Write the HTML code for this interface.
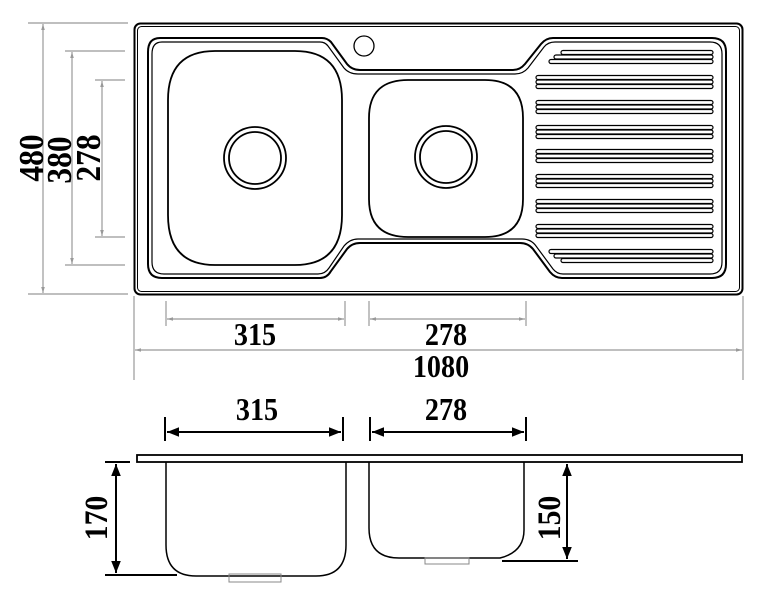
<!DOCTYPE html>
<html><head><meta charset="utf-8"><style>
html,body{margin:0;padding:0;background:#fff;}
svg{display:block;}
text{font-family:"Liberation Serif",serif;font-weight:bold;fill:#000;}
</style></head><body>
<svg width="768" height="599" viewBox="0 0 768 599" xmlns="http://www.w3.org/2000/svg">
<defs>
<marker id="ga" viewBox="0 0 10 10" refX="10" refY="5" markerWidth="8" markerHeight="5" orient="auto-start-reverse"><path d="M0,2 L10,5 L0,8z" fill="#999"/></marker>
<marker id="ba" viewBox="0 0 10 10" refX="10" refY="5" markerWidth="6" markerHeight="6" orient="auto-start-reverse"><path d="M0,1 L10,5 L0,9z" fill="#000"/></marker>
</defs>
<g stroke="#999" stroke-width="1.2" fill="none">
<line x1="28" y1="23" x2="128" y2="23"/><line x1="28" y1="294" x2="128" y2="294"/>
<line x1="43" y1="24" x2="43" y2="293" marker-start="url(#ga)" marker-end="url(#ga)"/>
<line x1="65" y1="51" x2="125" y2="51"/><line x1="65" y1="265" x2="125" y2="265"/>
<line x1="72" y1="52" x2="72" y2="264" marker-start="url(#ga)" marker-end="url(#ga)"/>
<line x1="95" y1="80" x2="125" y2="80"/><line x1="95" y1="237" x2="125" y2="237"/>
<line x1="102" y1="81" x2="102" y2="236" marker-start="url(#ga)" marker-end="url(#ga)"/>
<line x1="166" y1="301" x2="166" y2="326"/><line x1="345" y1="301" x2="345" y2="326"/>
<line x1="167" y1="319" x2="344" y2="319" marker-start="url(#ga)" marker-end="url(#ga)"/>
<line x1="369" y1="301" x2="369" y2="326"/><line x1="526" y1="301" x2="526" y2="326"/>
<line x1="370" y1="319" x2="525" y2="319" marker-start="url(#ga)" marker-end="url(#ga)"/>
<line x1="134" y1="296" x2="134" y2="380"/><line x1="743" y1="296" x2="743" y2="380"/>
<line x1="135" y1="350" x2="742" y2="350" marker-start="url(#ga)" marker-end="url(#ga)"/>
</g>
<text transform="translate(43,158) rotate(-90) scale(0.9,1)" font-size="35" text-anchor="middle">480</text>
<text transform="translate(71,160) rotate(-90) scale(0.9,1)" font-size="35" text-anchor="middle">380</text>
<text transform="translate(100,158) rotate(-90) scale(0.9,1)" font-size="35" text-anchor="middle">278</text>
<rect x="226" y="320" width="60" height="27" fill="#fff"/>
<rect x="410" y="320" width="66" height="27" fill="#fff"/>
<rect x="404" y="352" width="74" height="26" fill="#fff"/>
<text transform="translate(255,345) scale(0.88,1)" font-size="32" text-anchor="middle">315</text>
<text transform="translate(446,345) scale(0.88,1)" font-size="32" text-anchor="middle">278</text>
<text transform="translate(441,377) scale(0.88,1)" font-size="32" text-anchor="middle">1080</text>
<g fill="none" stroke="#000">
<rect x="134.5" y="23.5" width="608" height="271" rx="6" stroke-width="2"/>
<rect x="137.5" y="26.5" width="602" height="265" rx="4" stroke-width="1"/>
<path d="M160,38 H322 Q327,38 331,42 L347,64 Q352,70 360,70 H513 Q520,70 525,64 L541,44 Q546,38 553,38 H712 Q726,38 726,52 V264 Q726,278 712,278 H562 Q555,278 550,272 L533,249 Q528,243 520,243 H360 Q352,243 347,249 L331,271 Q327,278 320,278 H162 Q148,278 148,264 V52 Q148,38 160,38 Z" stroke-width="2"/>
<path d="M162,42 H320 Q325,42 328,46 L344,68 Q349,74 358,74 H515 Q523,74 528,68 L544,47 Q548,42 555,42 H710 Q722,42 722,54 V262 Q722,274 710,274 H563 Q557,274 553,269 L536,246 Q531,239 522,239 H358 Q350,239 344,246 L329,268 Q325,274 318,274 H164 Q152,274 152,262 V54 Q152,42 162,42 Z" stroke-width="1.2"/>
<path d="M215,51 H295 Q342,51 342,100 V215 Q342,265 295,265 H215 Q168,265 168,215 V100 Q168,51 215,51 Z" stroke-width="1.8"/>
<path d="M408,80 H485 Q523,80 523,118 V199 Q523,237 485,237 H408 Q369,237 369,199 V118 Q369,80 408,80 Z" stroke-width="1.8"/>
<circle cx="255" cy="158" r="31" stroke-width="1.8"/>
<circle cx="255" cy="158" r="26" stroke-width="1.8"/>
<circle cx="446" cy="157" r="31" stroke-width="1.8"/>
<circle cx="446" cy="157" r="26" stroke-width="1.8"/>
<circle cx="364" cy="46" r="10" stroke-width="1.3"/>
<g stroke-width="1.2">
<rect x="561" y="50.5" width="152" height="4" rx="2"/>
<rect x="554" y="55" width="159" height="4" rx="2"/>
<rect x="549" y="59.5" width="164" height="4" rx="2"/>
<rect x="536" y="75.5" width="177" height="4" rx="2"/><rect x="536" y="80" width="177" height="4" rx="2"/><rect x="536" y="84.5" width="177" height="4" rx="2"/>
<rect x="536" y="100.5" width="177" height="4" rx="2"/><rect x="536" y="105" width="177" height="4" rx="2"/><rect x="536" y="109.5" width="177" height="4" rx="2"/>
<rect x="536" y="125.5" width="177" height="4" rx="2"/><rect x="536" y="130" width="177" height="4" rx="2"/><rect x="536" y="134.5" width="177" height="4" rx="2"/>
<rect x="536" y="149.5" width="177" height="4" rx="2"/><rect x="536" y="154" width="177" height="4" rx="2"/><rect x="536" y="158.5" width="177" height="4" rx="2"/>
<rect x="536" y="174.5" width="177" height="4" rx="2"/><rect x="536" y="179" width="177" height="4" rx="2"/><rect x="536" y="183.5" width="177" height="4" rx="2"/>
<rect x="536" y="199.5" width="177" height="4" rx="2"/><rect x="536" y="204" width="177" height="4" rx="2"/><rect x="536" y="208.5" width="177" height="4" rx="2"/>
<rect x="536" y="224.5" width="177" height="4" rx="2"/><rect x="536" y="229" width="177" height="4" rx="2"/><rect x="536" y="233.5" width="177" height="4" rx="2"/>
<rect x="549" y="249.5" width="164" height="4" rx="2"/>
<rect x="554" y="254" width="159" height="4" rx="2"/>
<rect x="561" y="258.5" width="152" height="4" rx="2"/>
</g>
</g>
<g fill="none" stroke="#000">
<rect x="137" y="455" width="605" height="7" stroke-width="1.8"/>
<path d="M166,462 V545 Q166,576 196,576 H316 Q346,576 346,545 V462" stroke-width="1.5"/>
<rect x="229" y="574" width="52" height="8" stroke="#888" stroke-width="1"/>
<path d="M369,462 V528 Q369,558 399,558 H500 Q524,552 524,530 V462" stroke-width="1.5"/>
<rect x="425" y="558" width="44" height="6" stroke="#888" stroke-width="1"/>
<g stroke-width="2">
<line x1="165" y1="417" x2="165" y2="441"/><line x1="343" y1="417" x2="343" y2="441"/>
<line x1="167" y1="432" x2="341" y2="432" marker-start="url(#ba)" marker-end="url(#ba)"/>
<line x1="370" y1="417" x2="370" y2="441"/><line x1="526" y1="417" x2="526" y2="441"/>
<line x1="372" y1="432" x2="524" y2="432" marker-start="url(#ba)" marker-end="url(#ba)"/>
<line x1="105" y1="462" x2="130" y2="462"/><line x1="105" y1="575" x2="177" y2="575"/>
<line x1="116" y1="464" x2="116" y2="573" marker-start="url(#ba)" marker-end="url(#ba)"/>
<line x1="502" y1="561" x2="578" y2="561"/>
<line x1="567" y1="464" x2="567" y2="559" marker-start="url(#ba)" marker-end="url(#ba)"/>
</g>
</g>
<text transform="translate(257,420) scale(0.88,1)" font-size="32" text-anchor="middle">315</text>
<text transform="translate(446,420) scale(0.88,1)" font-size="32" text-anchor="middle">278</text>
<text transform="translate(107,518) rotate(-90) scale(0.9,1)" font-size="33" text-anchor="middle">170</text>
<text transform="translate(560,518) rotate(-90) scale(0.9,1)" font-size="33" text-anchor="middle">150</text>
</svg>
</body></html>
